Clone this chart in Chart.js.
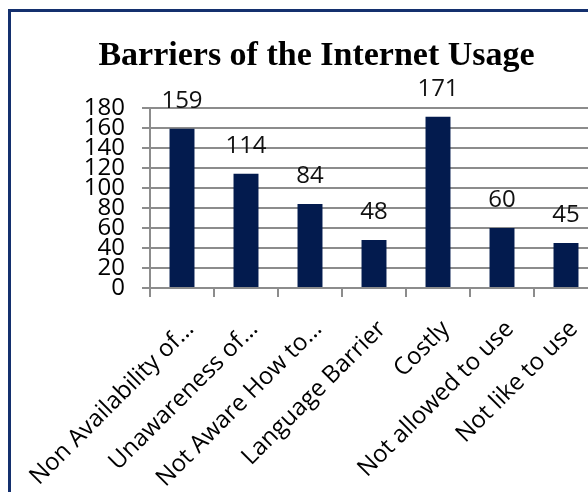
<!DOCTYPE html>
<html>
<head>
<meta charset="utf-8">
<script src="https://cdn.jsdelivr.net/npm/chart.js@4/dist/chart.umd.min.js"></script>
<style>
    html, body { margin: 0; padding: 0; background: #fff; overflow: hidden; width: 588px; height: 492px; }
    .frame {
        position: absolute; left: 8px; top: 9px;
        border-left: 3px solid #14306e; border-top: 3px solid #14306e;
        width: 620px; height: 500px;
    }
    canvas { display: block; }
</style>
</head>
<body>
<div class="frame"><canvas id="barrierChart" width="620" height="500"></canvas></div>
<script>
// Barriers of the Internet Usage — column chart

const categories = [
    'Non Availability of…',
    'Unawareness of…',
    'Not Aware How to…',
    'Language Barrier',
    'Costly',
    'Not allowed to use',
    'Not like to use',
];
const respondents = [159, 114, 84, 48, 171, 60, 45];
const yTicks = [0, 20, 40, 60, 80, 100, 120, 140, 160, 180];

const GRID = '#8c8c8c';
const BAR = '#031b4e';

Chart.defaults.font.family = '"Open Sans", sans-serif';
Chart.defaults.color = '#000';

// value labels above each column
const valueLabels = {
    id: 'valueLabels',
    afterDatasetsDraw(chart) {
        const ctx = chart.ctx;
        const meta = chart.getDatasetMeta(0);
        ctx.save();
        ctx.font = '24px "Open Sans", sans-serif';
        ctx.fillStyle = '#111';
        ctx.textAlign = 'center';
        ctx.textBaseline = 'alphabetic';
        meta.data.forEach((bar, i) => {
            ctx.fillText(String(respondents[i]), bar.x, bar.y - 21);
        });
        ctx.restore();
    },
};

new Chart(document.getElementById('barrierChart').getContext('2d'), {
    type: 'bar',
    data: {
        labels: categories,
        datasets: [{
            data: respondents,
            backgroundColor: BAR,
            barPercentage: 0.39,
            categoryPercentage: 1,
        }],
    },
    options: {
        responsive: false,
        animation: false,
        layout: { padding: { left: 24, right: 33, top: 0, bottom: 0 } },
        plugins: {
            legend: { display: false },
            tooltip: { enabled: false },
            title: {
                display: true,
                text: 'Barriers of the Internet Usage',
                color: '#000',
                font: { family: '"Liberation Serif", "Times New Roman", serif', size: 34, weight: 'bold', lineHeight: 1.2 },
                padding: { top: 24, bottom: 31 },
            },
        },
        scales: {
            x: {
                grid: { color: GRID, lineWidth: 2, drawOnChartArea: false, drawTicks: true, tickLength: 9, offset: true },
                border: { color: GRID, width: 2 },
                ticks: {
                    autoSkip: false, maxRotation: 45, minRotation: 45,
                    font: { size: 24 }, color: '#000', padding: 18, labelOffset: 8,
                },
                afterFit(s) {
                    s.height = 224;
                    s.paddingLeft = 0;
                    s.paddingRight = 0;
                },
            },
            y: {
                min: 0,
                max: 180,
                afterBuildTicks(s) { s.ticks = yTicks.map(v => ({ value: v })); },
                grid: { color: GRID, lineWidth: 2, drawTicks: true, tickLength: 8 },
                border: { color: GRID, width: 2 },
                ticks: { autoSkip: false, font: { size: 24 }, color: '#000', padding: 17 },
                afterFit(s) { s.width = 115; },
            },
        },
    },
    plugins: [valueLabels],
});
</script>
</body>
</html>
